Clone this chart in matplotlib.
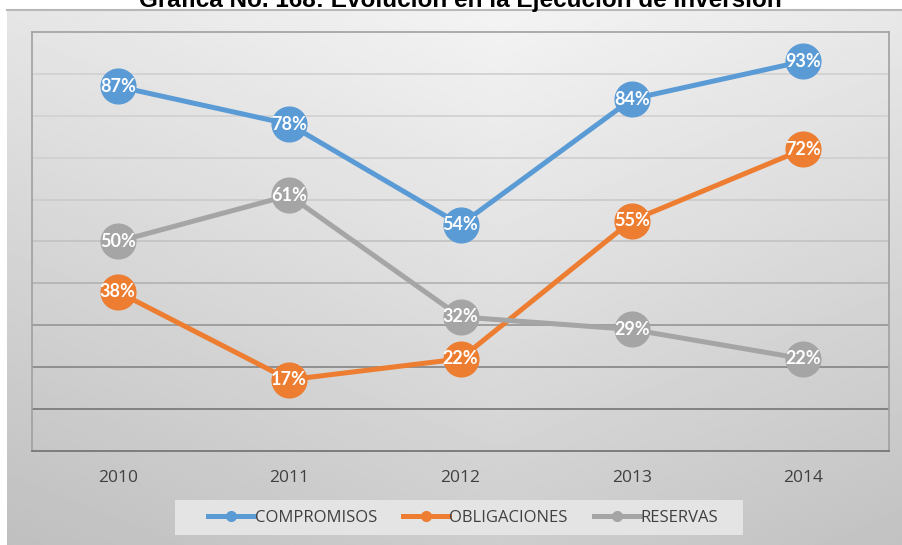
import numpy as np
import matplotlib.pyplot as plt
from matplotlib.colors import LinearSegmentedColormap
from matplotlib.patches import Rectangle

years = ['2010', '2011', '2012', '2013', '2014']
compromisos = [87, 78, 54, 84, 93]
obligaciones = [38, 17, 22, 55, 72]
reservas = [50, 61, 32, 29, 22]

series = [('COMPROMISOS', compromisos, '#5B9BD5'),
          ('OBLIGACIONES', obligaciones, '#ED7D31'),
          ('RESERVAS', reservas, '#A5A5A5')]

W, H = 902, 545
fig = plt.figure(figsize=(W / 100, H / 100), dpi=100)
fig.patch.set_facecolor('white')

# background gradient of the chart area
bg = fig.add_axes([7 / W, 0, 1 - 7 / W, 1 - 10 / H], zorder=-2)
yy, xx = np.mgrid[0:1:200j, 0:1:300j]
grad = 0.955 - 0.15 * yy - 0.10 * np.abs(xx - 0.55)
cmap = LinearSegmentedColormap.from_list('g', ['black', 'white'])
bg.imshow(grad, cmap=cmap, vmin=0, vmax=1, aspect='auto', extent=(0, 1, 0, 1), origin='upper')
bg.set_axis_off()
fig.add_artist(plt.Line2D([7 / W, 1], [1 - 9.5 / H] * 2, color='#b8b8b8', lw=1.5))

fig.text(460 / W, 1 - 7 / H, 'Gráfica No. 168: Evolución en la Ejecución de Inversión',
         ha='center', va='baseline', fontsize=17.5, fontweight='bold',
         family='Liberation Sans', color='black')

ax = fig.add_axes([32 / W, (H - 451) / H, 857 / W, 419 / H])
ax.set_facecolor('none')
ax.set_xlim(-0.5, 4.5)
ax.set_ylim(0, 100)
x = np.arange(len(years))

grid_cols = ['#d2d2d2', '#d2d2d2', '#d0d0d0', '#cccccc', '#c4c4c4', '#b4b4b4',
             '#9a9a9a', '#8a8a8a', '#7c7c7c']
for i, g in enumerate(range(10, 100, 10)):
    ax.axhline(g, color=grid_cols[8 - i], lw=1.3, zorder=1)

for name, vals, col in series:
    ax.plot(x, vals, color=col, lw=3.6, marker='o', markersize=25,
            solid_capstyle='round', zorder=3, label=name)
    for xi, v in zip(x, vals):
        ax.text(xi, v, f'{v}%', ha='center', va='center', color='white',
                fontsize=13, fontweight='bold', family='Lato', zorder=4)

for s in ['top', 'left', 'right']:
    ax.spines[s].set_color('#a0a0a0')
    ax.spines[s].set_linewidth(1.2)
ax.spines['bottom'].set_color('#777777')
ax.spines['bottom'].set_linewidth(1.3)
ax.set_yticks([])
ax.set_xticks(x)
ax.set_xticklabels(years, family='Open Sans', fontsize=12.5, color='#404040')
ax.tick_params(axis='x', length=0, pad=14)

# legend box
fig.add_artist(Rectangle((175 / W, 1 - 535 / H), 568 / W, 35 / H,
                         transform=fig.transFigure, facecolor='#e4e4e4',
                         edgecolor='none', zorder=1))
handles = [plt.Line2D([], [], color=c, lw=3.6, marker='o', markersize=7) for _, _, c in series]
leg = fig.legend(handles, [s[0] for s in series], loc='center', ncol=3,
                 bbox_to_anchor=(463 / W, 1 - 518 / H), frameon=False,
                 prop={'family': 'Open Sans', 'size': 12}, handlelength=2.75,
                 handletextpad=0.05, columnspacing=1.55)
leg.set_zorder(2)
for t in leg.get_texts():
    t.set_color('#404040')

fig.savefig('out.png', dpi=100)
